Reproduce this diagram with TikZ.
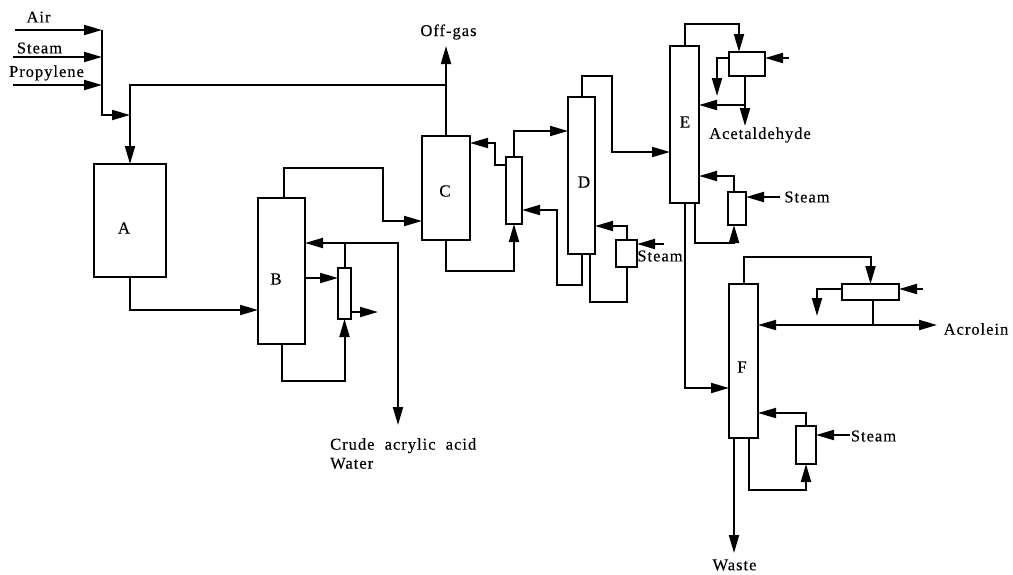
\documentclass[tikz,border=0pt]{standalone}
\usepackage{fontspec}
\setmainfont[LetterSpace=6,FakeBold=0.25]{Liberation Serif}
\usetikzlibrary{arrows.meta}
\tikzset{
  x=1pt,y=-1pt,
  unit/.style={draw=black,line width=2pt,fill=white,inner sep=0pt,outer sep=0pt},
  pipe/.style={draw=black,line width=2pt,line join=miter},
  flow/.style={pipe,-{Triangle[length=18pt,width=10pt]}},
  txt/.style={inner sep=0pt,font=\fontsize{16.5}{19}\selectfont,text=black},
  lab/.style={inner sep=0pt,font=\fontsize{17}{19}\selectfont,text=black},
}
\begin{document}
\begin{tikzpicture}
\useasboundingbox[fill=white] (0,0) rectangle (1013,574);
% units
\node[unit,minimum width=72pt,minimum height=113pt] (A) at (130,220.5) {};
\node[unit,minimum width=47pt,minimum height=146pt] (B) at (281.5,271) {};
\node[unit,minimum width=13pt,minimum height=51pt] (B2) at (344.5,293.5) {};
\node[unit,minimum width=48pt,minimum height=104pt] (C) at (446,188) {};
\node[unit,minimum width=16pt,minimum height=67pt] (C2) at (514,190.5) {};
\node[unit,minimum width=27pt,minimum height=157pt] (D) at (581.5,175.5) {};
\node[unit,minimum width=21pt,minimum height=27pt] (D2) at (626.5,253.5) {};
\node[unit,minimum width=29pt,minimum height=157pt] (E) at (684.5,124.5) {};
\node[unit,minimum width=36pt,minimum height=24pt] (E1) at (747,64) {};
\node[unit,minimum width=18pt,minimum height=33pt] (E2) at (737,208.5) {};
\node[unit,minimum width=29pt,minimum height=154pt] (F) at (743.5,361) {};
\node[unit,minimum width=57pt,minimum height=16pt] (F1) at (870.5,292) {};
\node[unit,minimum width=20pt,minimum height=38pt] (F2) at (806,445) {};
% unit labels
\node[lab] (lA) at (124,228) {A};
\node[lab] (lB) at (276,279) {B};
\node[lab] (lC) at (445,191) {C};
\node[lab] (lD) at (584,182) {D};
\node[lab] (lE) at (685,122) {E};
\node[lab] (lF) at (742,367) {F};
% stream labels
\node[txt] (tAir) at (38.5,17) {Air};
\node[txt] (tSteam) at (39.5,48) {Steam};
\node[txt] (tProp) at (46.5,73) {Propylene};
\node[txt] (tOff) at (448.5,32) {Off-gas};
\node[txt,align=left,anchor=north west] (tCrude) at (330,438) {Crude\ \ acrylic\ \ acid\\Water};
\node[txt] (tD) at (660,256) {Steam};
\node[txt] (tAc) at (760,135) {Acetaldehyde};
\node[txt] (tE) at (807,197) {Steam};
\node[txt] (tAcr) at (976,329) {Acrolein};
\node[txt] (tF) at (873.5,436) {Steam};
\node[txt] (tW) at (734.5,565) {Waste};
% feed
\coordinate (airS) at (15,30);
\coordinate (steamS) at (13,57);
\coordinate (propS) at (13,85);
\coordinate (mAir) at (102,30);
\coordinate (mSteam) at (102,57);
\coordinate (mProp) at (102,85);
\coordinate (jA) at (130,115);
\coordinate (jOff) at (446,85);
\coordinate (offTip) at (446,46);
\draw[flow] (airS) -- (mAir);
\draw[flow] (steamS) -- (mSteam);
\draw[flow] (propS) -- (mProp);
\draw[flow] (mAir) -- (102,115) -- (jA);
\draw[flow] (jOff) -- (130,85) -- (A.north);
\draw[flow] (C.north) -- (offTip);
% A to B
\draw[flow] (A.south) -- (130,310) -- ([yshift=-39pt]B.west);
% B system
\draw[flow] ([xshift=2.5pt]B.north) -- (284,168) -- (383,168) -- (383,221) -- ([yshift=-33pt]C.west);
\draw[flow] ([yshift=-7pt]B.east) -- ([yshift=-7pt]B.east -| B2.west);
\draw[flow] (B.south) -- (281.5,381) -- (344.5,381) -- (B2.south);
\coordinate (bOut) at (378,312);
\draw[flow] ([yshift=-18.5pt]B2.east) -- (bOut);
\coordinate (jB) at (344.5,243);
\coordinate (crudeTip) at (398,425);
\draw[pipe] (B2.north) -- (jB);
\draw[flow] (jB) -- ([yshift=28pt]B.east);
\draw[flow] (jB) -- (398,243) -- (crudeTip);
% C system
\draw[flow] (C.south) -- (446,271) -- (514,271) -- (C2.south);
\draw[flow] (C2.north) -- (514,131) -- ([yshift=44.5pt]D.west);
\draw[flow] ([yshift=25.5pt]C2.west) -- (495,165) -- (495,143) -- ([yshift=45pt]C.east);
% D system
\draw[flow] (D.north) -- (581.5,76) -- (612,76) -- (612,152) -- ([yshift=-27.5pt]E.west);
\draw[flow] (D.south) -- (581.5,285) -- (557,285) -- (557,210) -- ([yshift=-19.5pt]C2.east);
\draw[flow] (D2.north) -- (626.5,226) -- ([yshift=-50.5pt]D.east);
\draw[pipe] ([xshift=8.5pt]D.south) -- (590,302) -- (626.5,302) -- (D2.south);
\coordinate (dSteam) at (664,244);
\draw[flow] (dSteam) -- ([yshift=9.5pt]D2.east);
% E system
\draw[flow] (E.north) -- (684.5,24) -- (739,24) -- ([xshift=-8pt]E1.north);
\coordinate (e1In) at (789,58);
\draw[flow] (e1In) -- ([yshift=6pt]E1.east);
\coordinate (e1Tip) at (717,96);
\draw[flow] ([yshift=6pt]E1.west) -- (717,58) -- (e1Tip);
\coordinate (jE) at (745,105);
\coordinate (acTip) at (745,126);
\draw[pipe] ([xshift=-2pt]E1.south) -- (jE);
\draw[flow] (jE) -- (acTip);
\draw[flow] (jE) -- ([yshift=19.5pt]E.east);
\draw[flow] ([xshift=-3pt]E2.north) -- (734,176) -- ([yshift=-51.5pt]E.east);
\coordinate (eSteam) at (780,197);
\draw[flow] (eSteam) -- ([yshift=11.5pt]E2.east);
\draw[flow] ([xshift=10.5pt]E.south) -- (695,243) -- (734,243) -- ([xshift=-3pt]E2.south);
\draw[flow] (E.south) -- (684.5,388) -- ([yshift=-27pt]F.west);
% F system
\draw[flow] (F.north) -- (743.5,257) -- (870.5,257) -- (F1.north);
\coordinate (f1In) at (923,289);
\draw[flow] (f1In) -- ([yshift=3pt]F1.east);
\coordinate (f1Tip) at (817,316);
\draw[flow] ([yshift=3pt]F1.west) -- (817,289) -- (f1Tip);
\coordinate (jF) at (873,325);
\coordinate (acrTip) at (937,325);
\draw[pipe] ([xshift=2.5pt]F1.south) -- (jF);
\draw[flow] (jF) -- (acrTip);
\draw[flow] (jF) -- ([yshift=36pt]F.east);
\draw[flow] (F2.north) -- (806,413) -- ([yshift=-52pt]F.east);
\coordinate (fSteam) at (850,435);
\draw[flow] (fSteam) -- ([yshift=10pt]F2.east);
\draw[flow] ([xshift=5.5pt]F.south) -- (749,490) -- (806,490) -- (F2.south);
\coordinate (wTip) at (734,553);
\draw[flow] ([xshift=-9.5pt]F.south) -- (wTip);
\end{tikzpicture}
\end{document}
